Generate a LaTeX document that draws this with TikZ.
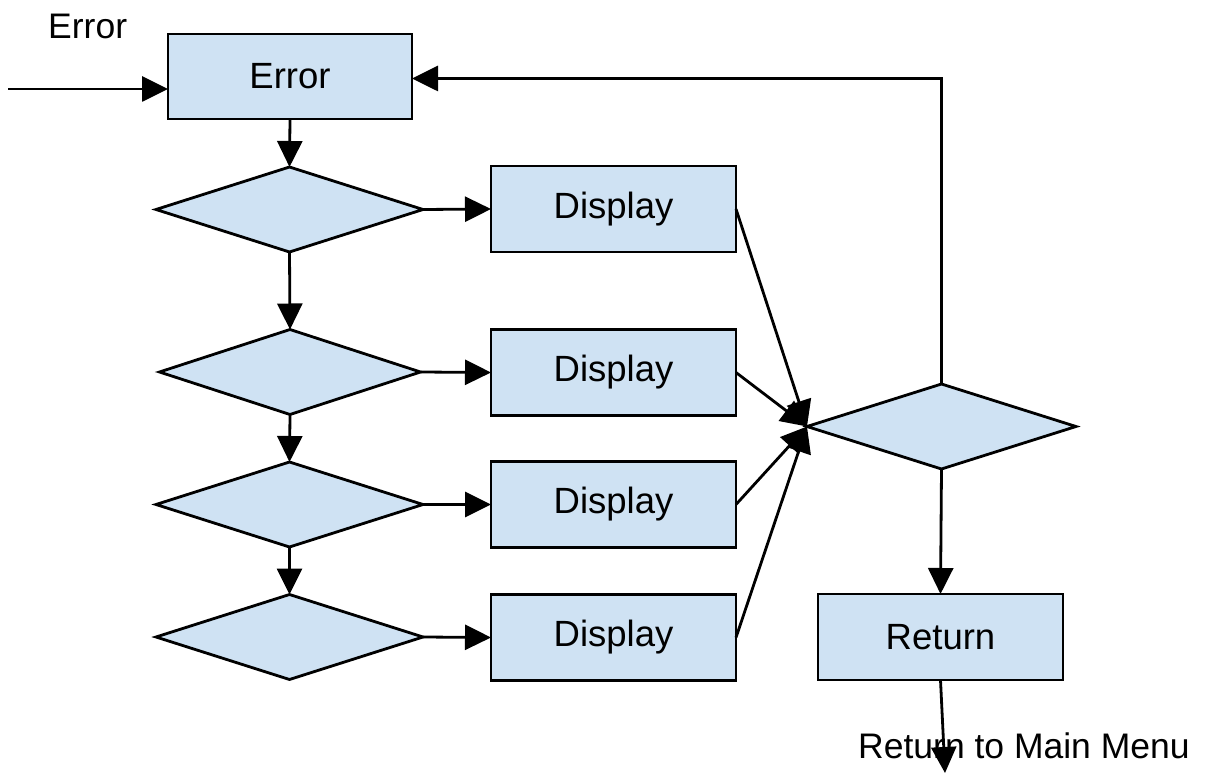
\documentclass[tikz,border=0pt]{standalone}
\usepackage{fontspec}
\setmainfont{Liberation Sans}
\usetikzlibrary{shapes.geometric,arrows.meta,calc}
\definecolor{boxfill}{HTML}{CFE2F3}
\tikzset{
  base/.style={draw=black, line width=2.8pt, fill=boxfill, inner sep=0pt, outer sep=0pt},
  procbox/.style={base, rectangle, minimum width=245pt, minimum height=86pt,
    font=\fontsize{36.5}{44}\selectfont},
  decision/.style={base, diamond, aspect=3.13, minimum width=267pt, minimum height=85pt},
  flow/.style={line width=2.8pt, -{Triangle[length=26pt,width=25pt]}},
  lbl/.style={inner sep=0pt, font=\fontsize{35.5}{42}\selectfont}
}
\begin{document}
\begin{tikzpicture}[x=1pt,y=-1pt]
\useasboundingbox (0,0) rectangle (1223,775);

% main column
\node[procbox, minimum width=244pt, minimum height=85pt] (err) at (290,76.5) {\raisebox{-2pt}{Error}};
\node[decision] (d1) at (289.5,209.5) {};
\node[decision, minimum width=261pt] (d2) at (290,372) {};
\node[decision] (d3) at (289.5,504.5) {};
\node[decision] (d4) at (289.5,637) {};

% display boxes
\node[procbox] (p1) at (613.5,209) {\raisebox{-2pt}{Display}};
\node[procbox] (p2) at (613.5,372.5) {\raisebox{-2pt}{Display}};
\node[procbox] (p3) at (613.5,504.5) {\raisebox{-2pt}{Display}};
\node[procbox] (p4) at (613.5,637.5) {\raisebox{-2pt}{Display}};

% right column
\node[decision, minimum width=269pt] (chk) at (941.5,426.5) {};
\node[procbox] (ret) at (940.5,637) {\raisebox{-2pt}{Return}};

% labels
\node[lbl, anchor=base west] (lblerr) at (48,39) {Error};
\node[lbl, anchor=base west] (lblret) at (858,758) {Return to Main Menu};

% entry arrow
\coordinate (in) at (8,89);
\draw[flow] (in) -- (in -| err.west);

% down the decision chain
\draw[flow] (err.south) -- (d1.north);
\draw[flow] (d1.south) -- (d2.north);
\draw[flow] (d2.south) -- (d3.north);
\draw[flow] (d3.south) -- (d4.north);

% decisions to displays
\draw[flow] (d1.east) -- (p1.west);
\draw[flow] (d2.east) -- (p2.west);
\draw[flow] (d3.east) -- (p3.west);
\draw[flow] (d4.east) -- (p4.west);

% displays converge on the check
\draw[flow] (p1.east) -- (chk.west);
\draw[flow] (p2.east) -- (chk.west);
\draw[flow] (p3.east) -- (chk.west);
\draw[flow] (p4.east) -- (chk.west);

% loop back and exit
\draw[flow] (chk.north) |- ($(err.east)+(0,2)$);
\draw[flow] (chk.south) -- (ret.north);
\coordinate (out) at (945,773);
\draw[flow] (ret.south) -- (out);
\end{tikzpicture}
\end{document}
